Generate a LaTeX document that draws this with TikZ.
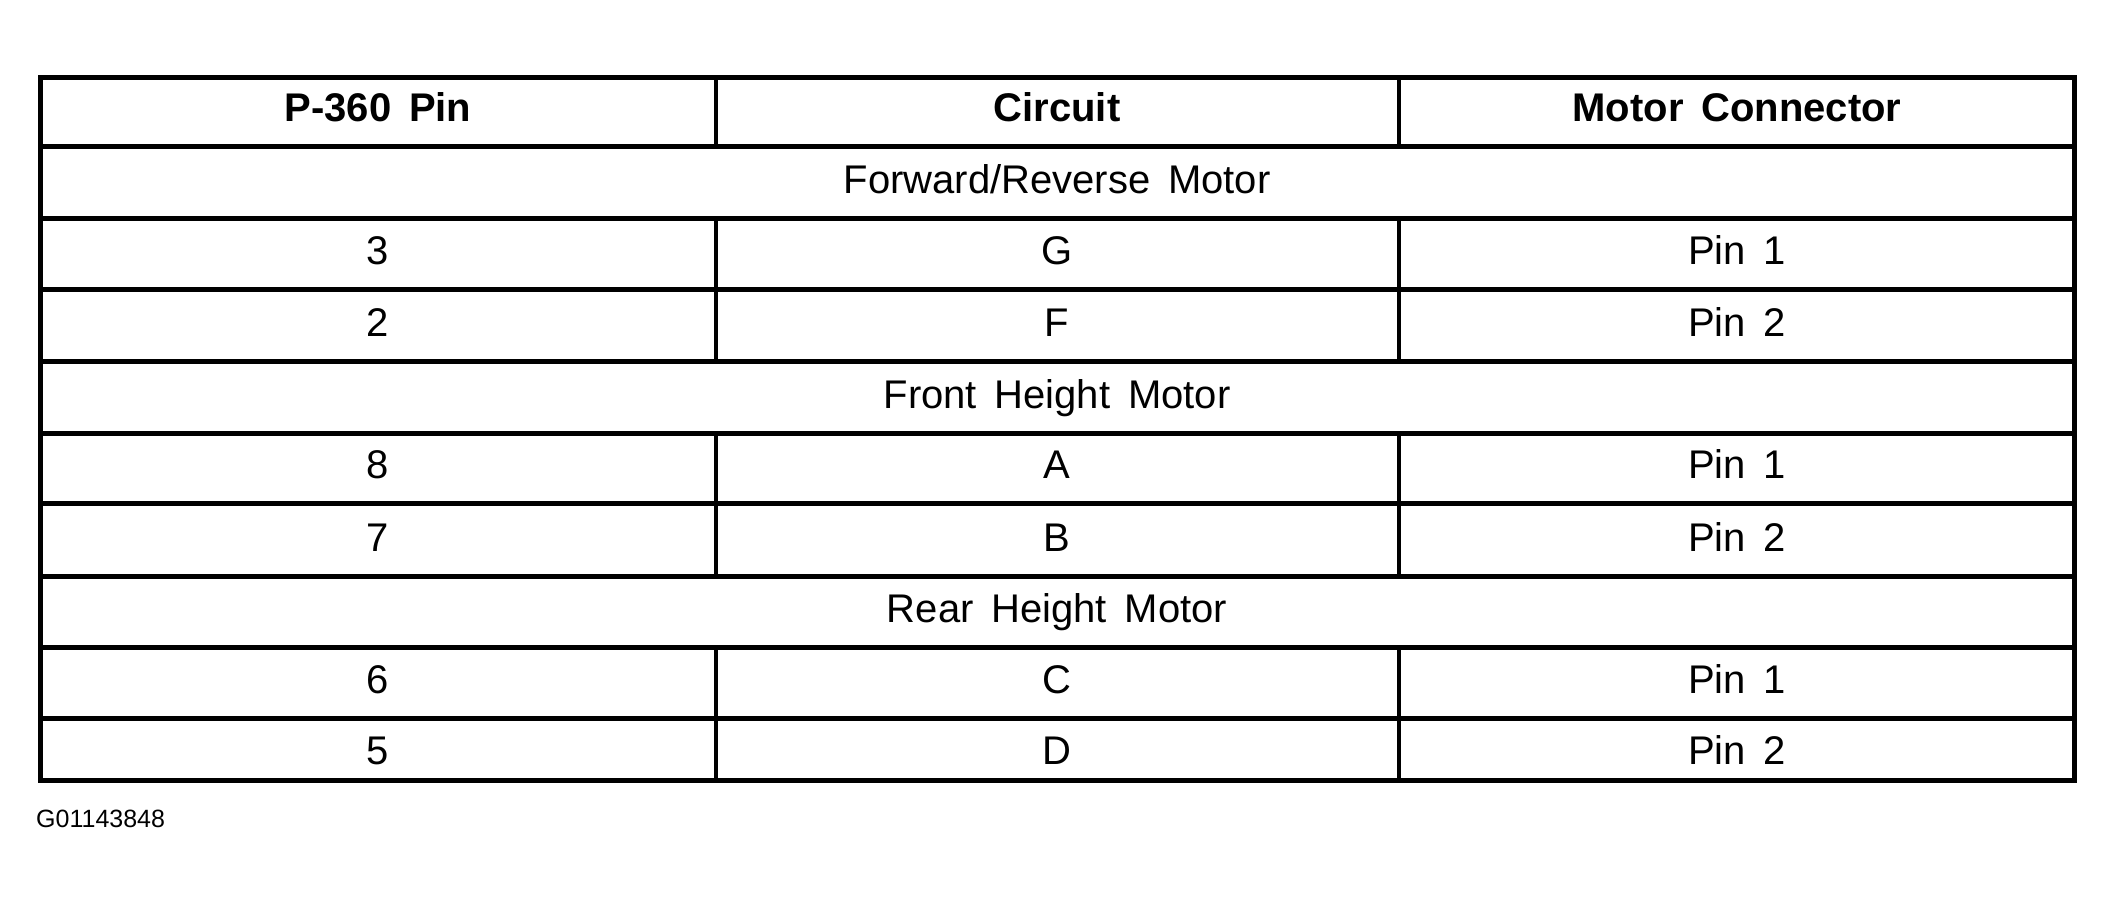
\documentclass[tikz,border=0pt]{standalone}
\usepackage{fontspec}
\setmainfont[WordSpace=1.6]{Liberation Sans}
\begin{document}
\begin{tikzpicture}[x=1pt,y=-1pt,
  cell/.style={anchor=base,inner sep=0pt,font=\fontsize{40}{48}\selectfont},
  hcell/.style={cell,font=\fontsize{40}{48}\selectfont\bfseries},
  frame/.style={line width=5pt,line cap=rect},
  hrule/.style={line width=5pt},
  vrule/.style={line width=4pt}]
\useasboundingbox (0,0) rectangle (2114,902);
% horizontal rules
\foreach \y in {146,218,289,361,433,503,576,647,718}
  \draw[hrule] (40,\y) -- (2074,\y);
% vertical dividers
\foreach \a/\b in {77/146,218/361,433/576,647/780}{
  \draw[vrule] (716,\a) -- (716,\b);
  \draw[vrule] (1399,\a) -- (1399,\b);
}
\draw[frame] (40,77) rectangle (2074,780);
% header
\node[hcell] (h1) at (378,121) {P-360 Pin};
\node[hcell] (h2) at (1057,121) {Circuit};
\node[hcell] (h3) at (1737,121) {Motor Connector};
% sections and rows
\node[cell] (s1) at (1057,193) {Forward/Reverse Motor};
\node[cell] (r1a) at (378,264) {3};
\node[cell] (r1b) at (1057,264) {G};
\node[cell] (r1c) at (1737,264) {Pin 1};
\node[cell] (r2a) at (378,336) {2};
\node[cell] (r2b) at (1057,336) {F};
\node[cell] (r2c) at (1737,336) {Pin 2};
\node[cell] (s2) at (1057,408) {Front Height Motor};
\node[cell] (r3a) at (378,478) {8};
\node[cell] (r3b) at (1057,478) {A};
\node[cell] (r3c) at (1737,478) {Pin 1};
\node[cell] (r4a) at (378,551) {7};
\node[cell] (r4b) at (1057,551) {B};
\node[cell] (r4c) at (1737,551) {Pin 2};
\node[cell] (s3) at (1057,622) {Rear Height Motor};
\node[cell] (r5a) at (378,693) {6};
\node[cell] (r5b) at (1057,693) {C};
\node[cell] (r5c) at (1737,693) {Pin 1};
\node[cell] (r6a) at (378,764) {5};
\node[cell] (r6b) at (1057,764) {D};
\node[cell] (r6c) at (1737,764) {Pin 2};
% figure id
\node[anchor=base west,inner sep=0pt,font=\fontsize{25}{30}\selectfont] (gid) at (36,827) {G01143848};
\end{tikzpicture}
\end{document}
